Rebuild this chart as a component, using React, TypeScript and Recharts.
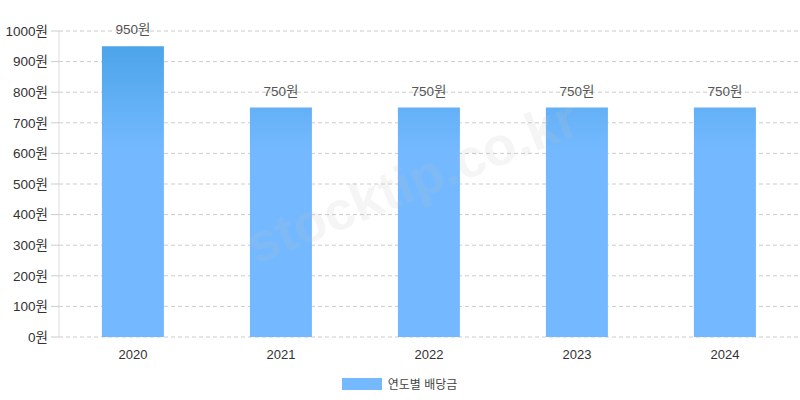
import { BarChart, Bar, XAxis, YAxis, CartesianGrid, Legend, LabelList } from "recharts";

const years = ["2020", "2021", "2022", "2023", "2024"];
const dividends = [950, 750, 750, 750, 750];
const yTicks = [0, 100, 200, 300, 400, 500, 600, 700, 800, 900, 1000];

const data = years.map((year, i) => ({ year, dividend: dividends[i] }));

const FONT = "'Liberation Sans', 'Noto Sans CJK KR', sans-serif";

function LegendBox() {
  return (
    <div
      style={{
        height: 26,
        paddingTop: 3,
        boxSizing: "border-box",
        display: "flex",
        alignItems: "center",
        justifyContent: "center",
        fontFamily: FONT,
        fontSize: 12,
        color: "#444",
      }}
    >
      <span style={{ display: "inline-block", width: 40, height: 12, background: "#74b9ff", marginRight: 6 }} />
      연도별 배당금
    </div>
  );
}

export default function App() {
  return (
    <div style={{ position: "absolute", left: 0, top: 0, width: 800, height: 400, background: "#fff", overflow: "hidden" }}>
      <BarChart
        width={800}
        height={400}
        data={data}
        margin={{ top: 31, right: 1, left: 0, bottom: 5 }}
        barCategoryGap="29%"
      >
        <defs>
          <linearGradient id="barFill" gradientUnits="userSpaceOnUse" x1="0" y1="40" x2="0" y2="150">
            <stop offset="0%" stopColor="#4aa3e8" />
            <stop offset="100%" stopColor="#74b9ff" />
          </linearGradient>
        </defs>
        <CartesianGrid vertical={false} stroke="#ccc" strokeDasharray="4 3" />
        <XAxis
          dataKey="year"
          axisLine={false}
          tickLine={false}
          height={32}
          tickMargin={7}
          tick={{ fill: "#333", fontSize: 13, fontFamily: FONT }}
        />
        <YAxis
          domain={[0, 1000]}
          ticks={yTicks}
          width={59}
          axisLine={{ stroke: "#ddd" }}
          tickLine={{ stroke: "#ccc" }}
          tickSize={8}
          tickMargin={3}
          tickFormatter={(v: number) => `${v}원`}
          tick={{ fill: "#333", fontSize: 13.5, fontFamily: FONT }}
        />
        <Legend verticalAlign="bottom" content={() => <LegendBox />} />
        <Bar dataKey="dividend" fill="url(#barFill)" isAnimationActive={false}>
          <LabelList
            dataKey="dividend"
            position="top"
            offset={12}
            formatter={(v: number) => `${v}원`}
            style={{ fill: "#555", fontSize: 13.5, fontFamily: FONT }}
          />
        </Bar>
      </BarChart>
      <div
        style={{
          position: "absolute",
          left: 162,
          top: 150,
          width: 500,
          textAlign: "center",
          transform: "rotate(-22deg)",
          fontFamily: "'Liberation Sans', sans-serif",
          fontWeight: "bold",
          fontSize: 54,
          color: "rgba(190,190,190,0.16)",
          pointerEvents: "none",
          whiteSpace: "nowrap",
        }}
      >
        stocktip.co.kr
      </div>
    </div>
  );
}
